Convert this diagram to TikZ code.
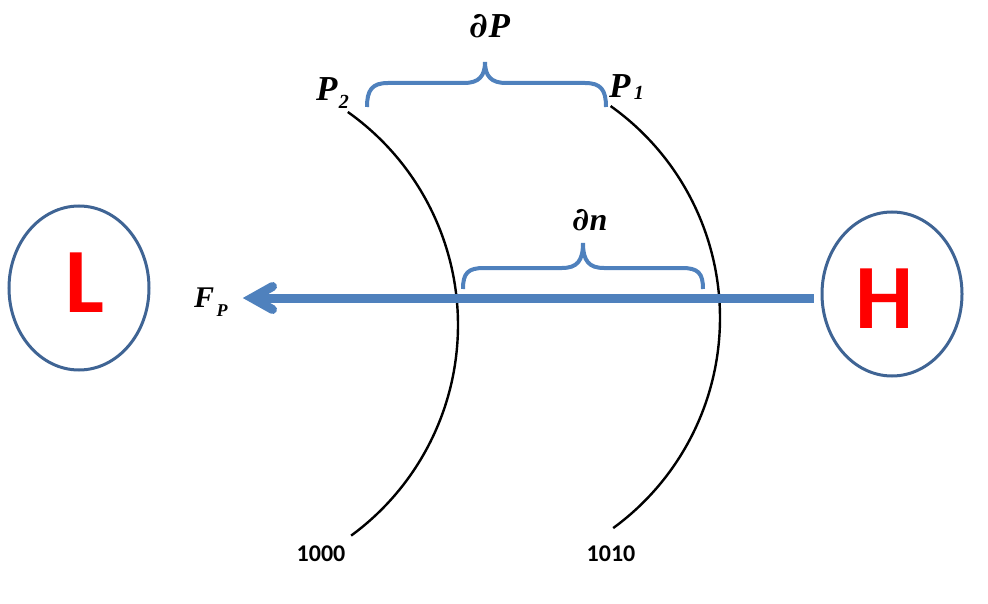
\documentclass[tikz,border=0pt]{standalone}
\usepackage{fontspec}
\setmainfont{Liberation Serif}
\newfontfamily\calib{Carlito}
\newfontfamily\partfont{DejaVu Serif}
\usetikzlibrary{shapes.geometric}
\definecolor{brblue}{HTML}{4F81BD}
\definecolor{ringblue}{HTML}{3F6494}
\definecolor{lred}{HTML}{FF0000}
\newcommand{\pdiff}{{\partfont\bfseries\itshape ∂}}
\begin{document}
\begin{tikzpicture}[x=1pt,y=1pt,
  ring/.style={draw=ringblue,line width=3pt,ellipse,minimum width=140pt,minimum height=164pt,inner sep=0pt},
  bigletter/.style={font=\calib\bfseries\fontsize{92}{92}\selectfont,text=lred,inner sep=0pt},
  mathlbl/.style={font=\bfseries\itshape\fontsize{35}{37}\selectfont,inner sep=0pt},
  forcelbl/.style={font=\bfseries\itshape\fontsize{30}{32}\selectfont,inner sep=0pt},
  sublbl/.style={font=\bfseries\itshape\fontsize{20}{21}\selectfont,inner sep=0pt},
  isolbl/.style={font=\calib\bfseries\fontsize{24}{26}\selectfont,inner sep=0pt},
  bracep/.style={draw=brblue,line width=4pt,line cap=butt},
  force/.style={draw=brblue,line width=9pt},
  iso/.style={draw=black,line width=2.4pt}]
\useasboundingbox (0,0) rectangle (988,-604);
% pressure centres
\node[ring] (L) at (79,-288) {};
\node[ring] (H) at (892,-294) {};
\node[bigletter] (Ltxt) at (85,-283) {L};
\node[bigletter] (Htxt) at (885,-299) {H};
% isobars
\draw[iso] (197,-325) ++(54.7:261) arc[start angle=54.7,end angle=-53.8,radius=261];
\draw[iso] (460,-318) ++(54.6:260) arc[start angle=54.6,end angle=-53.9,radius=260];
\node[isolbl] (i1000) at (321,-554) {1000};
\node[isolbl] (i1010) at (611,-554) {1010};
% force arrow
\coordinate (tip) at (252,-298);
\coordinate (arm1) at (272.5,-286.5);
\coordinate (arm2) at (272.5,-309.5);
\draw[force] ([xshift=-7pt]H.west |- 0,-298) -- (tip);
\draw[force,line cap=round,line join=miter] (arm1) -- (tip) -- (arm2);
\node[forcelbl,anchor=base west] (F) at (194,-307) {F};
\node[sublbl,font=\bfseries\itshape\fontsize{18}{19}\selectfont,anchor=base west] (Fs) at (F.base east) [xshift=2pt,yshift=-9pt] {P};
% top brace
\draw[bracep] (367,-107) .. controls (367,-90) and (372,-83) .. (388,-83) -- (464,-83)
  .. controls (479,-83) and (485,-76) .. (485,-62)
  .. controls (485,-76) and (491,-83) .. (506,-83) -- (585,-83)
  .. controls (601,-83) and (606,-90) .. (606,-107);
% lower brace
\draw[bracep] (463,-289) .. controls (463,-273) and (468,-268) .. (484,-268) -- (562,-268)
  .. controls (577,-268) and (583,-261) .. (583,-243)
  .. controls (583,-261) and (589,-268) .. (604,-268) -- (682,-268)
  .. controls (698,-268) and (703,-273) .. (703,-289);
% labels
\node[mathlbl] (dP) at (490,-26) {\pdiff P};
\node[mathlbl,anchor=base west] (P2) at (316,-101) {P};
\node[sublbl,anchor=base west] (P2s) at (P2.base east) [xshift=1pt,yshift=-8pt] {2};
\node[mathlbl,anchor=base west] (P1) at (609,-98) {P};
\node[sublbl,anchor=base west] (P1s) at (P1.base east) [xshift=3pt,yshift=-2pt] {1};
\node[mathlbl,font=\bfseries\itshape\fontsize{32}{34}\selectfont] (dn) at (590,-220) {\pdiff n};
\end{tikzpicture}
\end{document}
